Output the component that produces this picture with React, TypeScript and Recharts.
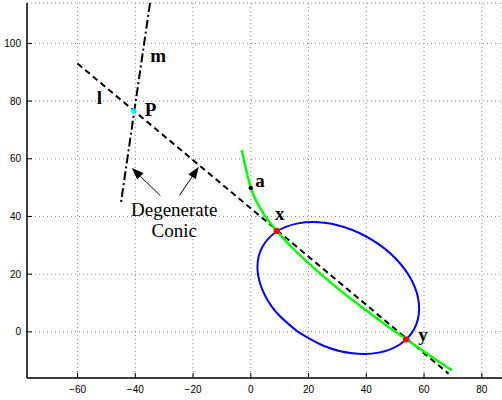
import React from "react";
import {
  ComposedChart,
  Line,
  Scatter,
  XAxis,
  YAxis,
  CartesianGrid,
  ReferenceLine,
} from "recharts";

const xTicks = [-60, -40, -20, 0, 20, 40, 60, 80];
const yTicks = [0, 20, 40, 60, 80, 100];

// line l (through x and y) and line m (through P)
const lineL = [
  { x: -60, y: 93.0 },
  { x: 68.5, y: -14.5 },
];
const lineM = [
  { x: -34.9, y: 114 },
  { x: -45.0, y: 44.5 },
];

// blue conic (ellipse), closed
const ellipse = [
  { x: 16.2, y: 0.1 },
  { x: 25.4, y: -4.9 },
  { x: 35.1, y: -7.4 },
  { x: 44.3, y: -7.2 },
  { x: 51.7, y: -4.3 },
  { x: 56.6, y: 1.0 },
  { x: 58.3, y: 8.0 },
  { x: 56.7, y: 15.8 },
  { x: 51.8, y: 23.6 },
  { x: 44.4, y: 30.3 },
  { x: 35.2, y: 35.3 },
  { x: 25.5, y: 37.8 },
  { x: 16.4, y: 37.6 },
  { x: 8.9, y: 34.7 },
  { x: 4.0, y: 29.4 },
  { x: 2.3, y: 22.5 },
  { x: 4.0, y: 14.6 },
  { x: 8.8, y: 6.8 },
  { x: 16.2, y: 0.1 },
];

// green conic branch
const green = [
  { x: -3.1, y: 63.0 },
  { x: -1.8, y: 57.0 },
  { x: 0, y: 50.0 },
  { x: 2, y: 45.2 },
  { x: 4.4, y: 41.0 },
  { x: 9, y: 35.0 },
  { x: 14, y: 29.5 },
  { x: 20, y: 23.8 },
  { x: 28, y: 16.8 },
  { x: 36, y: 10.4 },
  { x: 45, y: 3.7 },
  { x: 53.8, y: -2.6 },
  { x: 62, y: -8.2 },
  { x: 69.7, y: -13.4 },
];

const redPoints = [
  { x: 9.0, y: 35.0 },
  { x: 53.8, y: -2.6 },
];
const pointP = [{ x: -40.6, y: 76.5 }];
const pointA = [{ x: 0.0, y: 49.9 }];

const letters = [
  { x: -32.1, y: 93.5, text: "m" },
  { x: -52.4, y: 79.0, text: "l" },
  { x: -34.7, y: 74.8, text: "P" },
  { x: 3.2, y: 50.3, text: "a" },
  { x: 10.0, y: 38.8, text: "x" },
  { x: 59.6, y: -3.1, text: "y" },
];
const caption = [
  { x: -26.5, y: 40.3, text: "Degenerate" },
  { x: -26.5, y: 33.0, text: "Conic" },
];

const arrows = [
  { from: { x: -31.3, y: 47.2 }, to: { x: -41.2, y: 56.8 } },
  { from: { x: -24.7, y: 47.3 }, to: { x: -18.0, y: 57.2 } },
];

const fmt = (v: number) => (v < 0 ? `\u2212${-v}` : `${v}`);

const Arrow = (props: any) => {
  const { x1, y1, x2, y2 } = props;
  const ang = Math.atan2(y2 - y1, x2 - x1);
  const len = 12;
  const hw = 4.5;
  const bx = x2 - len * Math.cos(ang);
  const by = y2 - len * Math.sin(ang);
  const nx = -Math.sin(ang) * hw;
  const ny = Math.cos(ang) * hw;
  return (
    <g>
      <line x1={x1} y1={y1} x2={bx} y2={by} stroke="#000" strokeWidth={1} />
      <polygon
        points={`${x2},${y2} ${bx + nx},${by + ny} ${bx - nx},${by - ny}`}
        fill="#000"
      />
    </g>
  );
};

const star = (color: string, s: number) => (p: any) => (
  <g stroke={color} strokeWidth={1.5}>
    <line x1={p.cx - s} y1={p.cy} x2={p.cx + s} y2={p.cy} />
    <line x1={p.cx} y1={p.cy - s} x2={p.cx} y2={p.cy + s} />
    <line x1={p.cx - s * 0.7} y1={p.cy - s * 0.7} x2={p.cx + s * 0.7} y2={p.cy + s * 0.7} />
    <line x1={p.cx - s * 0.7} y1={p.cy + s * 0.7} x2={p.cx + s * 0.7} y2={p.cy - s * 0.7} />
  </g>
);

const textShape = (bold: boolean) => (p: any) => (
  <text
    x={p.cx}
    y={p.cy}
    textAnchor="middle"
    fontFamily="'Liberation Serif', 'Times New Roman', serif"
    fontWeight={bold ? "bold" : "normal"}
    fontSize={19}
    fill="#000"
  >
    {p.payload.text}
  </text>
);

export default function App() {
  return (
    <div style={{ position: "absolute", left: 0, top: 0 }}>
      <ComposedChart
        width={502}
        height={400}
        margin={{ top: 3, right: 0, bottom: 0, left: 0 }}
      >
        <CartesianGrid stroke="#888" strokeDasharray="1 3" />
        <XAxis
          type="number"
          dataKey="x"
          domain={[-77.5, 87]}
          ticks={xTicks}
          interval={0}
          allowDataOverflow
          height={22}
          tickSize={-5}
          tickMargin={13}
          tickFormatter={fmt}
          axisLine={{ stroke: "#000", strokeWidth: 1.5 }}
          tickLine={{ stroke: "#000" }}
          tick={{ fontSize: 10, fill: "#000", fontFamily: "'Liberation Sans', Arial, sans-serif" }}
        />
        <XAxis
          xAxisId="top"
          orientation="top"
          type="number"
          dataKey="x"
          domain={[-77.5, 87]}
          ticks={xTicks}
          interval={0}
          allowDataOverflow
          height={0}
          mirror
          tick={false}
          tickSize={5}
          axisLine={{ stroke: "#333", strokeWidth: 2 }}
          tickLine={{ stroke: "#000" }}
        />
        <YAxis
          type="number"
          dataKey="y"
          domain={[-16, 114]}
          ticks={yTicks}
          interval={0}
          allowDataOverflow
          width={27}
          tickSize={-5}
          tickMargin={11}
          tickFormatter={fmt}
          axisLine={{ stroke: "#000", strokeWidth: 1.5 }}
          tickLine={{ stroke: "#000" }}
          tick={{ fontSize: 10, fill: "#000", fontFamily: "'Liberation Sans', Arial, sans-serif" }}
        />
        <YAxis
          yAxisId="right"
          orientation="right"
          type="number"
          dataKey="y"
          domain={[-16, 114]}
          ticks={yTicks}
          interval={0}
          allowDataOverflow
          width={0}
          mirror
          tick={false}
          tickSize={5}
          axisLine={{ stroke: "#333", strokeWidth: 2 }}
          tickLine={{ stroke: "#000" }}
        />

        <Line data={lineL} dataKey="y" type="linear" stroke="#000" strokeWidth={2} strokeDasharray="6 4" dot={false} activeDot={false} isAnimationActive={false} />
        <Line data={lineM} dataKey="y" type="linear" stroke="#000" strokeWidth={2} strokeDasharray="9 3 2 3" dot={false} activeDot={false} isAnimationActive={false} />
        <Line data={ellipse} dataKey="y" type="natural" stroke="#0000ff" strokeWidth={2} dot={false} activeDot={false} isAnimationActive={false} />
        <Line data={green} dataKey="y" type="monotone" stroke="#00ff00" strokeWidth={2.5} dot={false} activeDot={false} isAnimationActive={false} />

        {arrows.map((a, i) => (
          <ReferenceLine key={i} segment={[a.from, a.to]} shape={Arrow} />
        ))}

        <Scatter data={redPoints} dataKey="y" isAnimationActive={false} shape={(p: any) => <circle cx={p.cx} cy={p.cy} r={3.2} fill="#ff0000" />} />
        <Scatter data={pointP} dataKey="y" isAnimationActive={false} shape={star("#00ffff", 3)} />
        <Scatter data={pointA} dataKey="y" isAnimationActive={false} shape={star("#000", 2.2)} />
        <Scatter data={letters} dataKey="y" isAnimationActive={false} shape={textShape(true)} />
        <Scatter data={caption} dataKey="y" isAnimationActive={false} shape={textShape(false)} />
      </ComposedChart>
    </div>
  );
}
